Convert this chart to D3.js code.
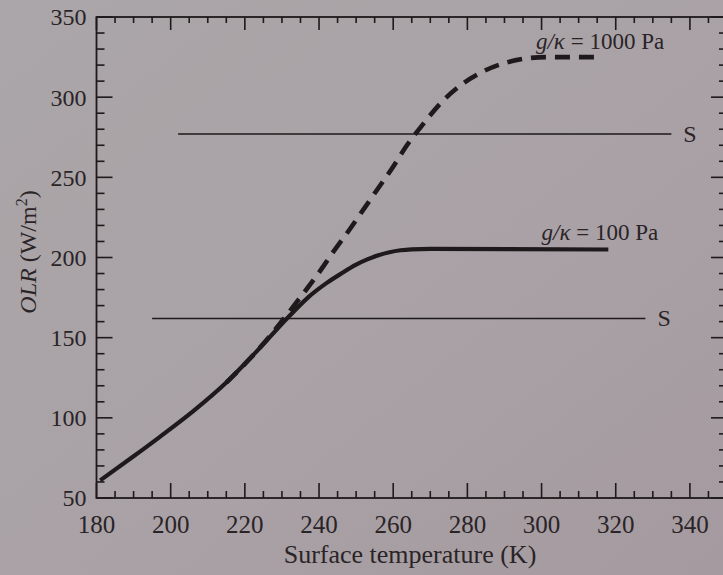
<!DOCTYPE html>
<html>
<head>
<meta charset="utf-8">
<script src="https://cdn.jsdelivr.net/npm/d3@7"></script>
<style>
  html, body { margin: 0; padding: 0; background: #a8a0a4; }
  svg { display: block; }
  text { font-family: "Liberation Serif", "DejaVu Serif", serif; fill: #2a2427; }
</style>
</head>
<body>
<svg id="chart" width="723" height="575"></svg>
<script>
// ---- data ----
const xDomain = [180, 350];
const yDomain = [50, 350];
const xTickLabels = [180, 200, 220, 240, 260, 280, 300, 320, 340];
const yTickLabels = [50, 100, 150, 200, 250, 300, 350];

// g/kappa = 100 Pa (solid)
const temp100 = [181, 190, 197, 206, 215, 223, 232, 237, 242, 246, 250, 253, 256, 259, 262, 265, 270, 318];
const olr100  = [61, 76, 88, 104, 122, 141, 163.5, 175, 184, 190, 195.5, 198.8, 201.4, 203.3, 204.5, 205.1, 205.4, 205];

// g/kappa = 1000 Pa (dashed)
const temp1000 = [215, 223, 231.6, 235.9, 239.8, 243.7, 248.1, 252, 255.9, 259.8, 263.7, 268, 273.1, 278.5, 284.2, 289.6, 295.4, 301.2, 314.5];
const olr1000  = [122, 141, 165, 178, 190, 203, 217, 230, 243, 256, 270, 283, 297, 308, 316, 321, 324, 325, 325];

// absorbed solar lines "S"
const sLevels = [277, 162];
const sStart  = [202, 195];
const sEnd    = [335, 328];

const seriesLabels = ["= 1000 Pa", "= 100 Pa"];

// ---- layout ----
const svg = d3.select("#chart");
const W = 723, H = 575;
const mLeft = 96.5, mRight = 727, mTop = 17, mBottom = 498;

const defs = svg.append("defs");
const grad = defs.append("linearGradient").attr("id", "bg")
  .attr("x1", "0").attr("y1", "0").attr("x2", "1").attr("y2", "1");
grad.append("stop").attr("offset", "0%").attr("stop-color", "#aba6a9");
grad.append("stop").attr("offset", "60%").attr("stop-color", "#a9a1a5");
grad.append("stop").attr("offset", "100%").attr("stop-color", "#a49a9f");
svg.append("rect").attr("width", W).attr("height", H).attr("fill", "url(#bg)");

const x = d3.scaleLinear().domain(xDomain).range([mLeft, mRight]);
const y = d3.scaleLinear().domain(yDomain).range([mBottom, mTop]);

const ink = "#1e191b";

// frame
svg.append("rect")
  .attr("x", x(xDomain[0])).attr("y", y(yDomain[1]))
  .attr("width", x(xDomain[1]) - x(xDomain[0]))
  .attr("height", y(yDomain[0]) - y(yDomain[1]))
  .attr("fill", "none").attr("stroke", ink).attr("stroke-width", 1.8);

// ticks (inward, on all four sides)
const xTicks = d3.range(xDomain[0], xDomain[1] + 0.1, 5);
const yTicks = d3.range(yDomain[0], yDomain[1] + 0.1, 10);
const tg = svg.append("g").attr("stroke", ink).attr("stroke-width", 1.6);
xTicks.forEach(t => {
  const major = (t - 180) % 20 === 0;
  const lb = major ? 15 : 7, lt = major ? 13 : 6;
  tg.append("line").attr("x1", x(t)).attr("x2", x(t)).attr("y1", y(yDomain[0])).attr("y2", y(yDomain[0]) - lb);
  tg.append("line").attr("x1", x(t)).attr("x2", x(t)).attr("y1", y(yDomain[1])).attr("y2", y(yDomain[1]) + lt);
});
yTicks.forEach(t => {
  const major = t % 50 === 0;
  const l = major ? 16 : 8;
  tg.append("line").attr("x1", x(xDomain[0])).attr("x2", x(xDomain[0]) + l).attr("y1", y(t)).attr("y2", y(t));
  tg.append("line").attr("x1", x(xDomain[1])).attr("x2", x(xDomain[1]) - l).attr("y1", y(t)).attr("y2", y(t));
});

// tick labels
svg.append("g").selectAll("text").data(xTickLabels).join("text")
  .attr("x", d => x(d)).attr("y", y(yDomain[0]) + 35)
  .attr("text-anchor", "middle").attr("font-size", 25)
  .text(d => d);
svg.append("g").selectAll("text").data(yTickLabels).join("text")
  .attr("x", x(xDomain[0]) - 10).attr("y", d => y(d))
  .attr("dy", "0.35em")
  .attr("text-anchor", "end").attr("font-size", 24)
  .text(d => d);

// axis titles
svg.append("text")
  .attr("x", 410).attr("y", 563)
  .attr("text-anchor", "middle").attr("font-size", 26)
  .text("Surface temperature (K)");

const yt = svg.append("text")
  .attr("transform", "translate(36,252) rotate(-90)")
  .attr("text-anchor", "middle").attr("font-size", 24);
yt.append("tspan").attr("font-style", "italic").text("OLR");
yt.append("tspan").text(" (W/m");
yt.append("tspan").attr("font-size", 16).attr("dy", -9).text("2");
yt.append("tspan").attr("dy", 9).text(")");

// S lines
sLevels.forEach((s, i) => {
  svg.append("line")
    .attr("x1", x(sStart[i])).attr("x2", x(sEnd[i]))
    .attr("y1", y(s)).attr("y2", y(s))
    .attr("stroke", ink).attr("stroke-width", 1.6);
  svg.append("text")
    .attr("x", x(sEnd[i]) + 12).attr("y", y(s) + 8)
    .attr("font-size", 24).text("S");
});

// curves
const line = d3.line().x(d => x(d[0])).y(d => y(d[1])).curve(d3.curveMonotoneX);
svg.append("path")
  .datum(d3.zip(temp100, olr100))
  .attr("d", line).attr("fill", "none")
  .attr("stroke", ink).attr("stroke-width", 4.2).attr("stroke-linecap", "butt");
svg.append("path")
  .datum(d3.zip(temp1000, olr1000))
  .attr("d", line).attr("fill", "none")
  .attr("stroke", ink).attr("stroke-width", 4.6)
  .attr("stroke-dasharray", "15 9");

// curve labels
const lab1 = svg.append("text")
  .attr("x", x(298.5)).attr("y", y(olr1000[olr1000.length - 1]) - 8)
  .attr("font-size", 23);
lab1.append("tspan").attr("font-style", "italic").text("g/κ");
lab1.append("tspan").text(" " + seriesLabels[0]);

const lab2 = svg.append("text")
  .attr("x", x(300)).attr("y", y(olr100[olr100.length - 1]) - 9)
  .attr("font-size", 23);
lab2.append("tspan").attr("font-style", "italic").text("g/κ");
lab2.append("tspan").text(" " + seriesLabels[1]);
</script>
</body>
</html>
